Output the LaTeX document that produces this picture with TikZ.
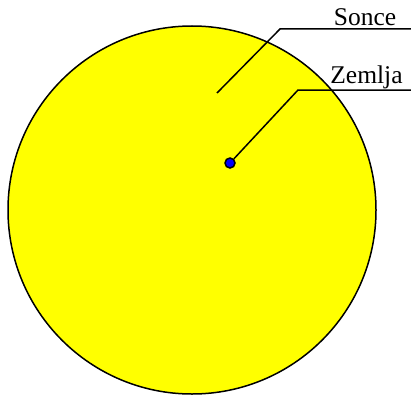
\documentclass[tikz,border=0pt]{standalone}
\usepackage{fontspec}
\setmainfont{Liberation Serif}
\definecolor{sunyellow}{RGB}{255,255,0}
\definecolor{earthblue}{RGB}{0,0,255}
\begin{document}
\begin{tikzpicture}[x=1pt,y=-1pt,
  leader/.style={draw=black,line width=1.5pt},
  lbl/.style={anchor=base,inner sep=0pt,font=\fontsize{25.5}{30}\selectfont}]
\useasboundingbox (0,0) rectangle (411,396);
\node[circle,draw=black,line width=1.5pt,fill=sunyellow,minimum size=368pt,inner sep=0pt] (sun) at (192,210) {};
\node[circle,draw=black,line width=1.5pt,fill=earthblue,minimum size=10pt,inner sep=0pt] (earth) at (230,163) {};
\coordinate (sp) at (217,93);
\coordinate (sk) at (280,29);
\coordinate (se) at (411,29);
\coordinate (ek) at (298,90);
\coordinate (ee) at (411,90);
\draw[leader] (sp) -- (sk) -- (se);
\draw[leader] (earth) -- (ek) -- (ee);
\node[lbl] (sonce) at (365,26) {Sonce};
\node[lbl] (zemlja) at (366.5,83) {Zemlja};
\end{tikzpicture}
\end{document}
